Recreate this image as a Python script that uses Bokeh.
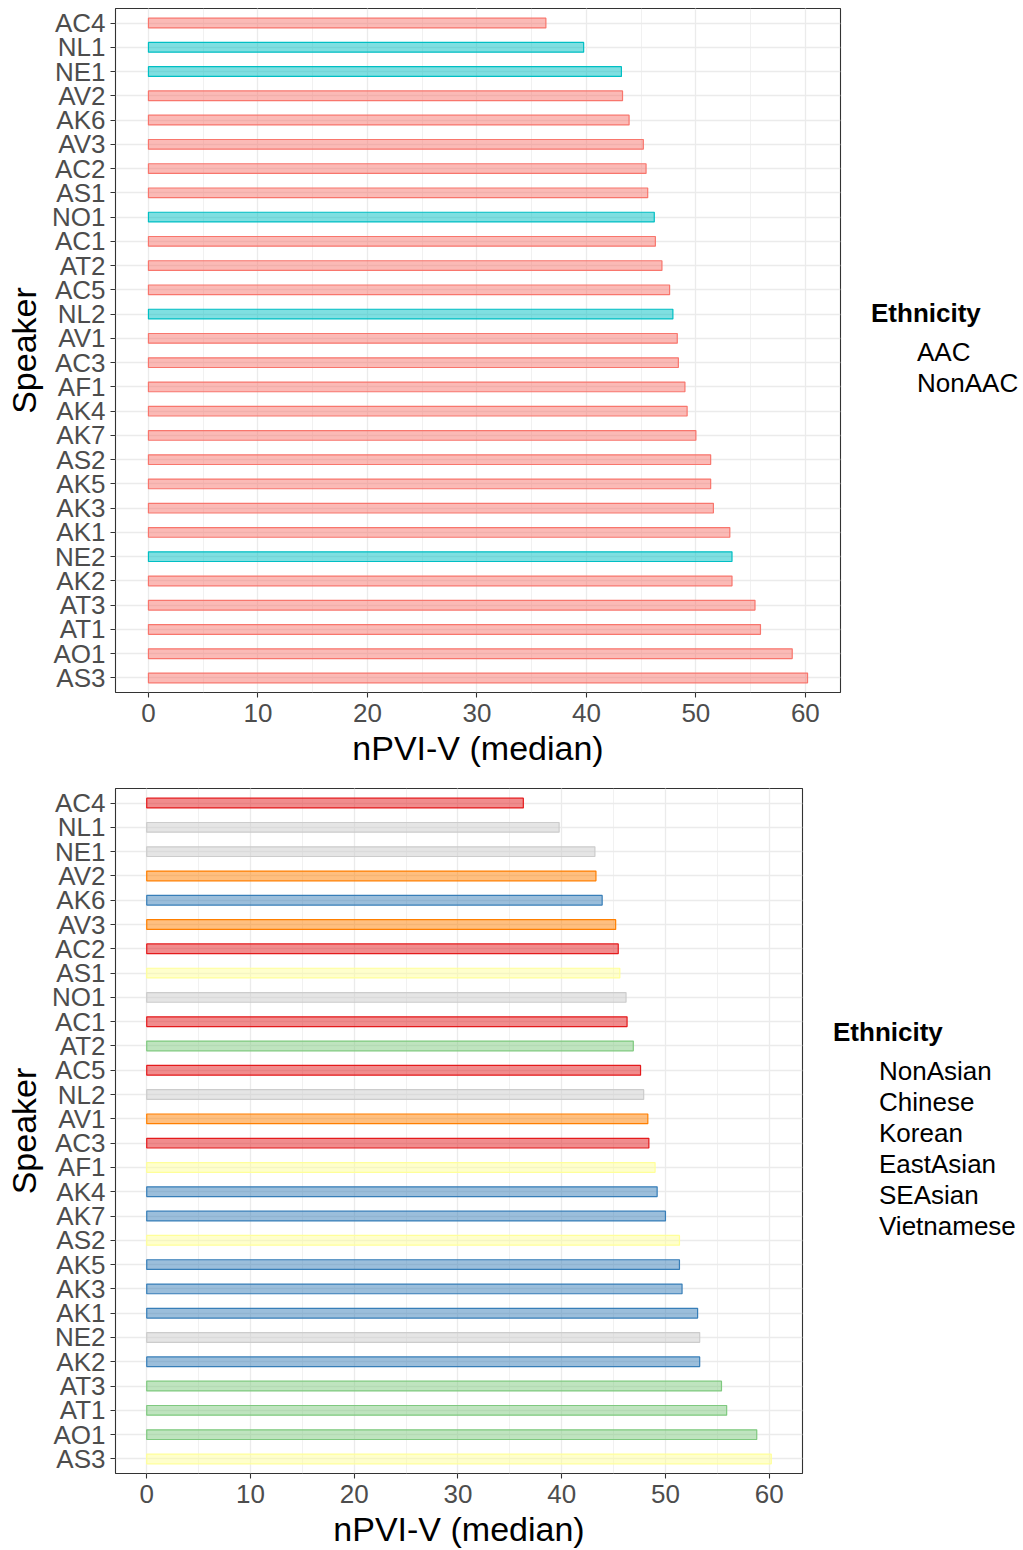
from bokeh.plotting import figure
from bokeh.models import ColumnDataSource, FactorRange, Range1d, SingleIntervalTicker
from bokeh.layouts import column, row
from bokeh.embed import file_html
from bokeh.resources import INLINE

# ---- data (top to bottom order as displayed) ----
speakers = ["AC4", "NL1", "NE1", "AV2", "AK6", "AV3", "AC2", "AS1", "NO1", "AC1",
            "AT2", "AC5", "NL2", "AV1", "AC3", "AF1", "AK4", "AK7", "AS2", "AK5",
            "AK3", "AK1", "NE2", "AK2", "AT3", "AT1", "AO1", "AS3"]
npvi_median = [36.3, 39.75, 43.2, 43.3, 43.9, 45.2, 45.45, 45.6, 46.2, 46.3,
               46.9, 47.6, 47.9, 48.3, 48.4, 49.0, 49.2, 50.0, 51.35, 51.35,
               51.6, 53.1, 53.3, 53.3, 55.4, 55.9, 58.8, 60.2]
group_aac = ["AAC", "NonAAC", "NonAAC", "AAC", "AAC", "AAC", "AAC", "AAC", "NonAAC", "AAC",
             "AAC", "AAC", "NonAAC", "AAC", "AAC", "AAC", "AAC", "AAC", "AAC", "AAC",
             "AAC", "AAC", "NonAAC", "AAC", "AAC", "AAC", "AAC", "AAC"]
group_eth = ["Chinese", "NonAsian", "NonAsian", "Vietnamese", "Korean", "Vietnamese", "Chinese",
             "SEAsian", "NonAsian", "Chinese", "EastAsian", "Chinese", "NonAsian", "Vietnamese",
             "Chinese", "SEAsian", "Korean", "Korean", "SEAsian", "Korean", "Korean", "Korean",
             "NonAsian", "Korean", "EastAsian", "EastAsian", "EastAsian", "SEAsian"]

aac_levels = ["AAC", "NonAAC"]
aac_colors = ["#F8766D", "#00BFC4"]
eth_levels = ["NonAsian", "Chinese", "Korean", "EastAsian", "SEAsian", "Vietnamese"]
eth_colors = ["#CCCCCC", "#E41A1C", "#377EB8", "#7FC97F", "#FFFF99", "#FF7F00"]

legend_title = "Ethnicity"
x_title = "nPVI-V (median)"
y_title = "Speaker"

FONT = "Liberation Sans"


def make_panel(groups, levels, colors, width, height, top, bottom):
    vmax = max(npvi_median)
    pad = vmax * 0.05
    p = figure(width=width, height=height,
               y_range=FactorRange(factors=speakers[::-1], range_padding=0.1,
                                   range_padding_units="absolute"),
               x_range=Range1d(-pad, vmax + pad),
               output_backend="svg", toolbar_location=None,
               min_border_left=115, min_border_right=10,
               min_border_top=top, min_border_bottom=bottom,
               background_fill_color="white", border_fill_color="white",
               outline_line_color="#333333", outline_line_width=1.1)
    for lvl, col in zip(levels, colors):
        idx = [i for i, g in enumerate(groups) if g == lvl]
        src = ColumnDataSource(dict(speaker=[speakers[i] for i in idx],
                                    value=[npvi_median[i] for i in idx]))
        p.hbar(y="speaker", right="value", left=0, height=0.4, source=src,
               fill_color=col, fill_alpha=0.5, line_color=col, line_width=1.2)

    ticker = SingleIntervalTicker(interval=10, num_minor_ticks=2)
    p.xaxis.ticker = ticker
    p.xgrid.ticker = ticker
    for ax in (p.xaxis[0], p.yaxis[0]):
        ax.axis_line_color = None
        ax.major_tick_line_color = "#333333"
        ax.major_tick_line_width = 1.1
        ax.major_tick_out = 5
        ax.major_tick_in = 0
        ax.minor_tick_line_color = None
        ax.major_label_text_font = FONT
        ax.major_label_text_font_size = "26px"
        ax.major_label_text_color = "#4D4D4D"
        ax.axis_label_text_font = FONT
        ax.axis_label_text_font_size = "34px"
        ax.axis_label_text_font_style = "normal"
        ax.axis_label_text_color = "black"
    p.xaxis.axis_label = x_title
    p.yaxis.axis_label = y_title
    p.xaxis.major_label_standoff = 6
    p.yaxis.major_label_standoff = 5
    p.xaxis.axis_label_standoff = 4
    p.yaxis.axis_label_standoff = 6

    p.xgrid.grid_line_color = "#EBEBEB"
    p.xgrid.grid_line_width = 1.3
    p.xgrid.minor_grid_line_color = "#EBEBEB"
    p.xgrid.minor_grid_line_width = 0.7
    p.ygrid.grid_line_color = "#EBEBEB"
    p.ygrid.grid_line_width = 1.3
    return p


def make_legend(levels, colors, width, height, top, bottom, loc):
    q = figure(width=width, height=height, x_range=Range1d(0, 1), y_range=Range1d(0, 1),
               output_backend="svg", toolbar_location=None,
               x_axis_location=None, y_axis_location=None,
               min_border_left=0, min_border_right=0,
               min_border_top=top, min_border_bottom=bottom,
               background_fill_color="white", border_fill_color="white",
               outline_line_color=None)
    q.grid.visible = False
    for lvl, col in zip(levels, colors):
        q.hbar(y=[], right=[], left=0, height=0.4,
               fill_color=col, fill_alpha=0.5, line_color=col, line_width=1.2,
               legend_label=lvl)
    leg = q.legend[0]
    leg.location = loc
    leg.title = legend_title
    leg.title_text_font = FONT
    leg.title_text_font_size = "26px"
    leg.title_text_font_style = "bold"
    leg.title_text_color = "black"
    leg.title_standoff = 8
    leg.label_text_font = FONT
    leg.label_text_font_size = "26px"
    leg.label_text_color = "black"
    leg.glyph_width = 33
    leg.glyph_height = 31
    leg.label_height = 29
    leg.spacing = 0
    leg.padding = 0
    leg.margin = 0
    leg.label_standoff = 13
    leg.border_line_color = None
    leg.background_fill_alpha = 0
    return q


p1 = make_panel(group_aac, aac_levels, aac_colors, 850, 775, 8, 83)
l1 = make_legend(aac_levels, aac_colors, 1023 - 850, 775, 8, 83, (21, 293))
p2 = make_panel(group_eth, eth_levels, eth_colors, 812, 775, 13, 77)
l2 = make_legend(eth_levels, eth_colors, 1023 - 812, 775, 13, 77, (21, 231))

layout = column(column(row(p1, l1, spacing=0)), column(row(p2, l2, spacing=0)), spacing=0)
open("out.html", "w").write(file_html(layout, INLINE))
